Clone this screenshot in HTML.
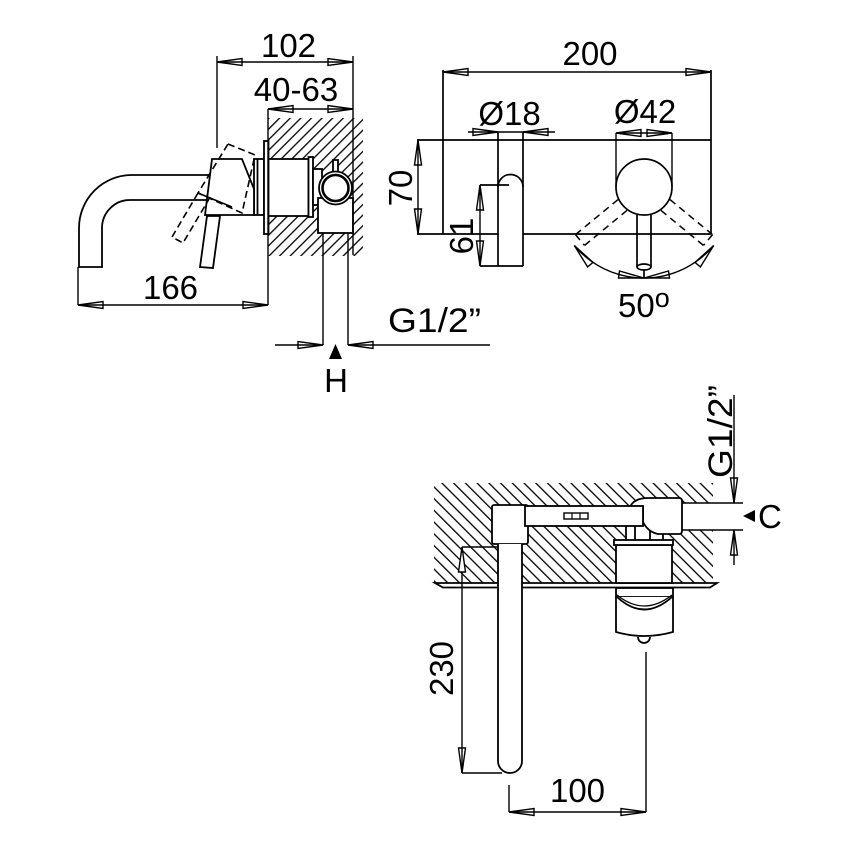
<!DOCTYPE html>
<html><head><meta charset="utf-8"><style>html,body{margin:0;padding:0;background:#fff}svg{display:block}</style></head>
<body>
<svg width="856" height="856" viewBox="0 0 856 856" xmlns="http://www.w3.org/2000/svg">
<defs>
<pattern id="h1" patternUnits="userSpaceOnUse" width="7.5" height="7.5" patternTransform="rotate(45)"><line x1="3.7" y1="-1" x2="3.7" y2="8.5" stroke="#000" stroke-width="1.3"/></pattern>
<pattern id="h2" patternUnits="userSpaceOnUse" width="8.3" height="8.3" patternTransform="rotate(-45)"><line x1="4.1" y1="-1" x2="4.1" y2="9.3" stroke="#000" stroke-width="1.3"/></pattern>
</defs>
<rect width="856" height="856" fill="#fff"/>

<!-- ================= LEFT VIEW ================= -->
<rect x="268" y="118" width="95" height="138" fill="url(#h1)"/>
<g stroke="#000" stroke-width="1.8" fill="#fff">
  <rect x="254" y="159" width="10" height="56"/>
  <line x1="257.5" y1="159" x2="257.5" y2="215"/>
  <rect x="264" y="141" width="4.5" height="93"/>
  <rect x="268.5" y="159" width="40" height="57"/>
  <rect x="308.5" y="157" width="4.5" height="60"/>
  <rect x="313" y="169" width="9" height="36"/>
  <rect x="318" y="198" width="35" height="35"/>
  <rect x="333" y="160" width="5" height="12"/>
  <circle cx="335.5" cy="188" r="16.5"/>
  <circle cx="335.5" cy="188" r="13" stroke-width="2.6"/>
  <!-- spout -->
  <path d="M212,175 L132,175 A53,53 0 0 0 79,228 L79,267 L102,267 L102,228 A28,28 0 0 1 130,200 L207,200" fill="none"/>
  <!-- handle -->
  <polygon points="212,159 242,159 254,189 254,215 205,215"/>
  <polygon points="207,216 220,216 213,268 200,267"/>
</g>
<g stroke="#000" stroke-width="1.6" fill="none">
  <path d="M228,144 L255,155 L242,213 L198,193 Z" stroke-dasharray="7,4"/>
  <path d="M198,193 L172,237 L183,243 L209,199" stroke-dasharray="7,4"/>
  <line x1="198" y1="193" x2="232" y2="207"/>
</g>
<g stroke="#000" stroke-width="1.4" fill="none">
  <line x1="217" y1="56" x2="217" y2="148"/>
  <line x1="353" y1="56" x2="353" y2="255"/>
  <line x1="268" y1="109" x2="268" y2="305"/>
  <line x1="78" y1="267" x2="78" y2="305"/>
  <line x1="217" y1="62" x2="353" y2="62"/>
  <line x1="268" y1="109" x2="353" y2="109"/>
  <line x1="78" y1="305" x2="268" y2="305"/>
  <line x1="275" y1="345" x2="323" y2="345"/>
  <line x1="348" y1="345" x2="490" y2="345"/>
  <line x1="323" y1="233" x2="323" y2="345"/>
  <line x1="348" y1="233" x2="348" y2="345"/>
  <polygon points="217,62 242,58.5 242,65.5"/>
  <polygon points="353,62 328,58.5 328,65.5"/>
  <polygon points="268,109 293,105.5 293,112.5"/>
  <polygon points="353,109 328,105.5 328,112.5"/>
  <polygon points="78,305 103,301.5 103,308.5"/>
  <polygon points="268,305 243,301.5 243,308.5"/>
  <polygon points="323,345 298,341.5 298,348.5"/>
  <polygon points="348,345 373,341.5 373,348.5"/>
</g>
<polygon points="335.5,344 329,359 342,359" fill="#000"/>

<!-- ================= FRONT VIEW ================= -->
<g stroke="#000" stroke-width="1.7" fill="none">
  <line x1="417" y1="140" x2="711" y2="140"/>
  <line x1="417" y1="234" x2="498" y2="234"/>
  <line x1="523" y1="234" x2="711" y2="234"/>
  <line x1="443" y1="70" x2="443" y2="234"/>
  <line x1="711" y1="70" x2="711" y2="234"/>
  <line x1="498" y1="132" x2="498" y2="266"/>
  <line x1="523" y1="132" x2="523" y2="266"/>
  <line x1="480" y1="266" x2="523" y2="266"/>
  <path d="M498,187 A12.5,12.5 0 0 1 523,187"/>
  <line x1="480" y1="185" x2="509" y2="185"/>
  <circle cx="644" cy="187" r="28"/>
  <line x1="637" y1="215" x2="637" y2="267"/>
  <line x1="651" y1="215" x2="651" y2="267"/>
  <ellipse cx="644" cy="267" rx="7" ry="3"/>
  <line x1="644" y1="270" x2="644" y2="278"/>
  <g stroke-dasharray="7,5" stroke-width="1.5">
    <line x1="618" y1="199.6" x2="575.5" y2="234.6"/>
    <line x1="627" y1="210.4" x2="584.5" y2="245.4"/>
    <line x1="575.5" y1="234.6" x2="584.5" y2="245.4"/>
    <line x1="670" y1="199.6" x2="712.5" y2="234.6"/>
    <line x1="661" y1="210.4" x2="703.5" y2="245.4"/>
    <line x1="712.5" y1="234.6" x2="703.5" y2="245.4"/>
  </g>
</g>
<g stroke="#000" stroke-width="1.4" fill="none">
  <line x1="443" y1="72" x2="711" y2="72"/>
  <line x1="418" y1="140" x2="418" y2="234"/>
  <line x1="468" y1="132" x2="555" y2="132"/>
  <line x1="480" y1="185" x2="480" y2="266"/>
  <line x1="616" y1="133" x2="672" y2="133"/>
  <line x1="616" y1="133" x2="616" y2="187"/>
  <line x1="672" y1="133" x2="672" y2="187"/>
  <path d="M574.3,245.5 A91,91 0 0 0 713.7,245.5"/>
  <polygon points="443,72 468,68.5 468,75.5"/>
  <polygon points="711,72 686,68.5 686,75.5"/>
  <polygon points="418,140 414.5,165 421.5,165"/>
  <polygon points="418,234 414.5,209 421.5,209"/>
  <polygon points="498,132 473,128.5 473,135.5"/>
  <polygon points="523,132 548,128.5 548,135.5"/>
  <polygon points="480,185 476.5,210 483.5,210"/>
  <polygon points="480,266 476.5,241 483.5,241"/>
  <polygon points="616,133 641,129.5 641,136.5"/>
  <polygon points="672,133 647,129.5 647,136.5"/>
  <polygon points="574.3,245.5 587.6,266.9 593,262.4"/>
  <polygon points="713.7,245.5 700.4,266.9 695,262.4"/>
  <polygon points="644,278 619.5,271 618.5,278"/>
  <polygon points="644,278 668.5,271 669.5,278"/>
</g>

<!-- ================= BOTTOM VIEW ================= -->
<rect x="434" y="483" width="279" height="100" fill="url(#h2)"/>
<rect x="682" y="503" width="32" height="27" fill="#fff"/>
<g stroke="#000" stroke-width="1.8" fill="#fff">
  <polygon points="435,583 717,583 710,587.5 443,587.5"/>
  <rect x="626" y="524" width="37" height="17"/>
  <line x1="635" y1="524" x2="635" y2="541"/>
  <line x1="650" y1="524" x2="650" y2="541"/>
  <rect x="492" y="505" width="36" height="39" rx="2"/>
  <path d="M630,507 Q634,498 648,498 L679,498 Q682,498 682,501 L682,531 Q682,534 679,534 L658,534 Q648,532 643,522 L643,507 Z"/>
  <rect x="525" y="506" width="118" height="20"/>
  <rect x="564" y="513" width="24" height="6" stroke-width="1.4"/>
  <line x1="572" y1="513" x2="572" y2="519" stroke-width="1.2"/>
  <line x1="580" y1="513" x2="580" y2="519" stroke-width="1.2"/>
  <rect x="616" y="545" width="56" height="38"/>
  <rect x="614" y="540" width="59" height="5"/>
  <path d="M498,544 L498,761 A12,12 0 0 0 522,761 L522,544"/>
  <rect x="616" y="588" width="57" height="9"/>
  <path d="M616,597 L616,632 Q644,640 673,632 L673,597"/>
  <path d="M617,597 Q644,622 672,597" fill="none"/>
  <path d="M617,595 Q644,617 672,595" fill="none" stroke-width="1.2"/>
  <path d="M638,637 A6,6 0 0 0 650,637" fill="none"/>
</g>
<g stroke="#000" stroke-width="1.4" fill="none">
  <line x1="682" y1="503" x2="743" y2="503"/>
  <line x1="682" y1="530" x2="743" y2="530"/>
  <line x1="734" y1="395" x2="734" y2="503"/>
  <line x1="734" y1="530" x2="734" y2="565"/>
  <polygon points="734,503 730.5,478 737.5,478"/>
  <polygon points="734,530 730.5,555 737.5,555"/>
  <line x1="462" y1="547" x2="498" y2="547"/>
  <line x1="462" y1="773" x2="502" y2="773"/>
  <line x1="462" y1="547" x2="462" y2="773"/>
  <polygon points="462,547 458.5,572 465.5,572" fill="#fff"/>
  <polygon points="462,773 458.5,748 465.5,748"/>
  <line x1="509" y1="785" x2="509" y2="812"/>
  <line x1="646" y1="652" x2="646" y2="812"/>
  <line x1="509" y1="812" x2="646" y2="812"/>
  <polygon points="509,812 534,808.5 534,815.5"/>
  <polygon points="646,812 621,808.5 621,815.5"/>
</g>
<polygon points="743,516 755,510 755,522" fill="#000"/>

<!-- ================= TEXT ================= -->
<g font-family="'Liberation Sans', 'DejaVu Sans', sans-serif" font-size="33" fill="#000" text-anchor="middle">
  <text x="288.5" y="57">102</text>
  <text x="296" y="101">40-63</text>
  <text x="170.5" y="299">166</text>
  <text x="434.5" y="332" font-size="34" textLength="93" lengthAdjust="spacingAndGlyphs">G1/2”</text>
  <text x="336" y="392">H</text>
  <text x="590" y="65">200</text>
  <text x="509.5" y="125">Ø18</text>
  <text x="645" y="123">Ø42</text>
  <text x="618" y="317" text-anchor="start">50<tspan font-size="27" dy="-10">o</tspan></text>
  <text x="577.5" y="802">100</text>
  <text x="758" y="528" text-anchor="start">C</text>
  <text transform="translate(412,188) rotate(-90)">70</text>
  <text transform="translate(473,236) rotate(-90)">61</text>
  <text transform="translate(453,668.5) rotate(-90)">230</text>
  <text transform="translate(732,431.5) rotate(-90)" font-size="34" textLength="93" lengthAdjust="spacingAndGlyphs">G1/2”</text>
</g>
</svg>
</body></html>
